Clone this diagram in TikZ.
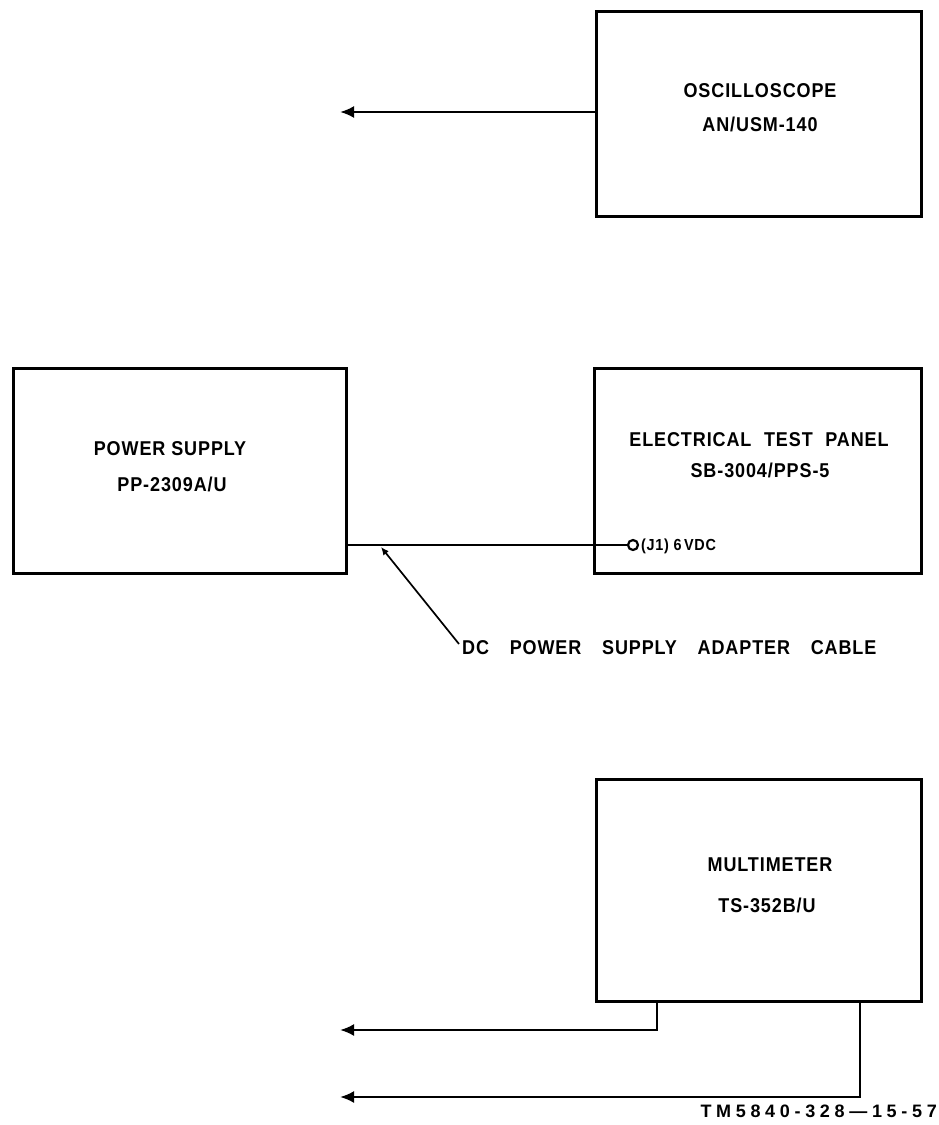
\documentclass[tikz,border=0pt]{standalone}
\usepackage{fontspec}
\setmainfont{Liberation Sans}[LetterSpace=5]
\usetikzlibrary{arrows.meta}
% lettering: slightly condensed, spaced capitals
\newcommand\lett[1]{\scalebox{0.9}[1]{#1}}
\newcommand\wsp[1]{\hspace{#1}}
\begin{document}
\begin{tikzpicture}[x=1pt,y=-1pt,
  unit/.style={draw, line width=3.2pt, inner sep=0pt, anchor=north west},
  wire/.style={line width=2.3pt},
  lbl/.style={font=\fontsize{20}{20}\selectfont\bfseries, inner sep=0pt},
  tip/.style={-{Latex[length=14pt,width=12pt]}}]
\useasboundingbox (0,0) rectangle (939,1125);

% instruments
\node[unit, minimum width=325pt, minimum height=205pt] (osc) at (595,10) {};
\node[unit, minimum width=333pt, minimum height=205pt] (ps)  at (12,367) {};
\node[unit, minimum width=327pt, minimum height=205pt] (etp) at (593,367) {};
\node[unit, minimum width=325pt, minimum height=222pt] (mm)  at (595,778) {};

% instrument names
\node[lbl] (osc1) at (760,91)  {\lett{OSCILLOSCOPE}};
\node[lbl] (osc2) at (760,124.5) {\lett{AN/USM-140}};
\node[lbl] (ps1)  at (170,449) {\lett{POWER SUPPLY}};
\node[lbl] (ps2)  at (172,484) {\lett{PP-2309A/U}};
\node[lbl] (etp1) at (759,440) {\lett{ELECTRICAL\wsp{14pt}TEST\wsp{14pt}PANEL}};
\node[lbl] (etp2) at (760,470) {\lett{SB-3004/PPS-5}};
\node[lbl] (mm1)  at (770,865) {\lett{MULTIMETER}};
\node[lbl] (mm2)  at (767,905) {\lett{TS-352B/U}};

% oscilloscope lead
\coordinate (oscend) at (340,112);
\draw[wire, tip] (osc.west |- oscend) -- (oscend);

% power cable to J1
\node[draw, circle, line width=2.2pt, minimum size=10pt, inner sep=0pt] (j1) at (633,545) {};
\node[lbl, font=\fontsize{16}{16}\selectfont\bfseries, anchor=west] (j1txt) at (641,546) {\lett{(J1) 6\,VDC}};
\draw[wire] (ps.east |- j1) -- (j1.west);

% cable callout
\coordinate (cab) at (381,547);
\node[lbl, anchor=west] (cabtxt) at (462,648)
  {\lett{DC\wsp{23pt}POWER\wsp{23pt}SUPPLY\wsp{23pt}ADAPTER\wsp{23pt}CABLE}};
\draw[line width=1.7pt, -{Latex[length=8pt,width=7pt]}] (459,644) -- (cab);

% multimeter leads
\coordinate (mmA) at (657,1000);
\coordinate (mmB) at (860,1000);
\coordinate (endA) at (340,1030);
\coordinate (endB) at (340,1097);
\draw[wire, tip] (mmA) |- (endA);
\draw[wire, tip] (mmB) |- (endB);

% drawing number
\node[lbl, font=\fontsize{18}{18}\selectfont\bfseries\addfontfeatures{LetterSpace=26}, anchor=east] (fig) at (937,1111) {TM5840-328---15-57};
\end{tikzpicture}
\end{document}
